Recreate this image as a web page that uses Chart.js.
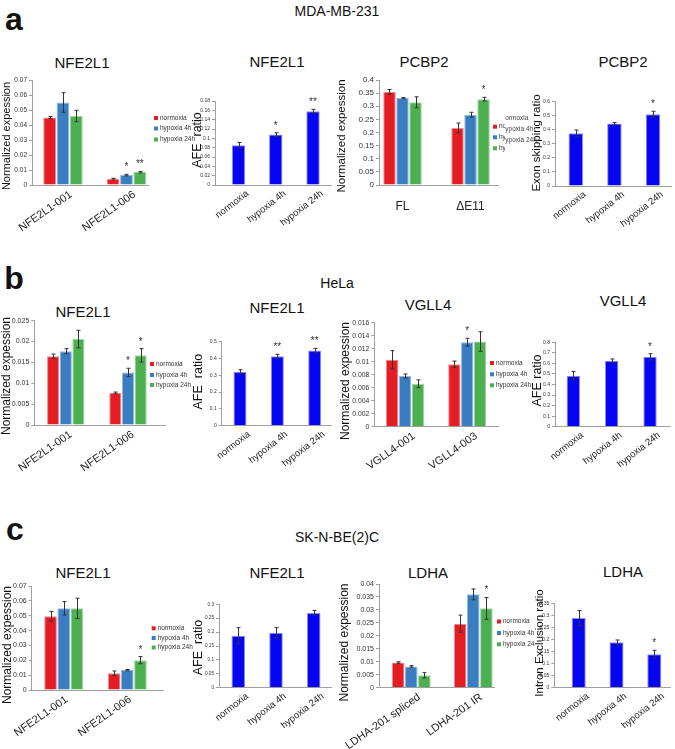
<!DOCTYPE html>
<html><head><meta charset="utf-8">
<script src="https://cdn.jsdelivr.net/npm/chart.js@4/dist/chart.umd.min.js"></script>
<style>
html,body{margin:0;padding:0;background:#fff;}
body{width:675px;height:749px;position:relative;overflow:hidden;font-family:"Liberation Sans",Arial,sans-serif;}
canvas{position:absolute;}
.t{position:absolute;white-space:nowrap;color:#111;transform:translate(-50%,-50%);line-height:1.2;}
</style></head><body>
<script>
// ---------- data ----------
const GROUPS = ['normoxia', 'hypoxia 4h', 'hypoxia 24h'];
const CONDS = ['normoxia', 'hypoxia 4h', 'hypoxia 24h'];

// a: MDA-MB-231
const a1Cats = ['NFE2L1-001', 'NFE2L1-006'];
const a1Norm = [0.0450, 0.0042];
const a1H4 = [0.0550, 0.0066];
const a1H24 = [0.0460, 0.0086];
const a1NormErr = [0.0007, 0.0003];
const a1H4Err = [0.0065, 0.0005];
const a1H24Err = [0.0038, 0.0005];
const a1Stars = [['', ''], ['', '*'], ['', '**']];

const a2Vals = [0.085, 0.108, 0.158];
const a2Err = [0.006, 0.004, 0.004];
const a2Stars = ['', '*', '**'];

const a3Cats = ['FL', 'ΔE11'];
const a3Norm = [0.355, 0.217];
const a3H4 = [0.331, 0.268];
const a3H24 = [0.315, 0.327];
const a3NormErr = [0.009, 0.019];
const a3H4Err = [0.002, 0.009];
const a3H24Err = [0.021, 0.007];
const a3Stars = [['', ''], ['', ''], ['', '*']];

const a4Vals = [0.376, 0.444, 0.510];
const a4Err = [0.022, 0.008, 0.022];
const a4Stars = ['', '', '*'];

// b: HeLa
const b1Cats = ['NFE2L1-001', 'NFE2L1-006'];
const b1Norm = [0.0165, 0.0077];
const b1H4 = [0.0177, 0.0126];
const b1H24 = [0.0206, 0.0167];
const b1NormErr = [0.0005, 0.0002];
const b1H4Err = [0.0006, 0.0010];
const b1H24Err = [0.0021, 0.0016];
const b1Stars = [['', ''], ['', '*'], ['', '*']];

const b2Vals = [0.321, 0.413, 0.447];
const b2Err = [0.012, 0.012, 0.013];
const b2Stars = ['', '**', '**'];

const b3Cats = ['VGLL4-001', 'VGLL4-003'];
const b3Norm = [0.0103, 0.0096];
const b3H4 = [0.0078, 0.0130];
const b3H24 = [0.0066, 0.0131];
const b3NormErr = [0.0014, 0.0005];
const b3H4Err = [0.0003, 0.0006];
const b3H24Err = [0.0006, 0.0015];
const b3Stars = [['', ''], ['', '*'], ['', '']];

const b4Vals = [0.484, 0.625, 0.662];
const b4Err = [0.040, 0.017, 0.030];
const b4Stars = ['', '', '*'];

// c: SK-N-BE(2)C
const c1Cats = ['NFE2L1-001', 'NFE2L1-006'];
const c1Norm = [0.0496, 0.0113];
const c1H4 = [0.0550, 0.0134];
const c1H24 = [0.0550, 0.0201];
const c1NormErr = [0.0033, 0.0015];
const c1H4Err = [0.0045, 0.0004];
const c1H24Err = [0.0068, 0.0024];
const c1Stars = [['', ''], ['', ''], ['', '*']];

const c2Vals = [0.187, 0.198, 0.269];
const c2Err = [0.029, 0.018, 0.009];
const c2Stars = ['', '', ''];

const c3Cats = ['LDHA-201 spliced', 'LDHA-201 IR'];
const c3Norm = [0.0097, 0.0247];
const c3H4 = [0.0082, 0.0360];
const c3H24 = [0.0048, 0.0306];
const c3NormErr = [0.0003, 0.0033];
const c3H4Err = [0.0003, 0.0021];
const c3H24Err = [0.0010, 0.0042];
const c3Stars = [['', ''], ['', ''], ['', '*']];

const c4Vals = [0.289, 0.188, 0.139];
const c4Err = [0.031, 0.010, 0.016];
const c4Stars = ['', '', '*'];

// ---------- styles / layout ----------
const FONT = '"Liberation Sans", Arial, sans-serif';
const GROUP_COLORS = ['#e41d24', '#3b7dc1', '#4caf50'];
const GROUP_EDGES = ['#f08a8d', '#94b9df', '#9fd5a1'];
const BLUE = '#0505f2';
const BLUE_EDGE = '#8c8cf7';

const LAYOUT = {
  a1: {x0:0, y0:70, w:200, h:170, L:32, R:148, T:80, B:185, xmin:-0.488, xmax:1.339, ymax:0.07, step:0.01, tick:6.5, cat:0.63, bar:0.96, rot:35, xfont:11, xpad:3, xoff:8, ytitle:'Normalized expession', ytx:7, yty:136, yts:11, legend:{x:154, ys:[118, 128.5, 139.5]}},
  a2: {x0:165, y0:70, w:170, h:170, L:215, R:331, T:101, B:185, xmin:-0.631, xmax:2.483, ymax:0.18, step:0.02, tick:5, cat:0.6, bar:0.6, rot:38, xfont:9.5, xpad:3, xoff:9, ytitle:'AFE  ratio', ytx:198, yty:140, yts:12.5},
  a3: {x0:335, y0:70, w:170, h:170, L:379, R:498, T:80, B:185, xmin:-0.3456, xmax:1.404, ymax:0.4, step:0.05, tick:8, cat:0.574, bar:0.96, rot:0, xfont:12, xpad:14, xoff:0, ytitle:'Normalized expession', ytx:342, yty:136, yts:11.5, legend:{x:493, ys:[126.7, 137.3, 148.3]}},
  a4: {x0:505, y0:70, w:170, h:170, L:555, R:671.7, T:101.7, B:186, xmin:-0.539, xmax:2.484, ymax:0.6, step:0.1, tick:5, cat:0.6, bar:0.627, rot:38, xfont:9.5, xpad:3, xoff:9, ytitle:'Exon skipping ratio', ytx:537, yty:143, yts:11.5, legend:{x:495.7, ys:[118, 129.5, 140.5]}},
  b1: {x0:0, y0:310, w:200, h:185, L:34.3, R:165, T:320.7, B:425, xmin:-0.506, xmax:1.595, ymax:0.025, step:0.005, tick:7, cat:0.61, bar:0.96, rot:35, xfont:11, xpad:3, xoff:5, ytitle:'Normalized expession', ytx:7, yty:376, yts:12, legend:{x:150, ys:[364, 375, 385]}},
  b2: {x0:165, y0:310, w:170, h:185, L:221.7, R:331.7, T:341.7, B:425.7, xmin:-0.49, xmax:2.455, ymax:0.5, step:0.05, tick:5, cat:0.6, bar:0.58, rot:38, xfont:9.5, xpad:3, xoff:9, ytitle:'AFE  ratio', ytx:198.3, yty:381.7, yts:12.5},
  b3: {x0:335, y0:310, w:200, h:185, L:374.3, R:498.3, T:322.7, B:426.7, xmin:-0.494, xmax:1.5, ymax:0.016, step:0.002, tick:6.8, cat:0.62, bar:0.96, rot:35, xfont:11, xpad:3, xoff:9, ytitle:'Normalized expession', ytx:345.7, yty:381, yts:12, legend:{x:490, ys:[363, 374.3, 385.3]}},
  b4: {x0:505, y0:310, w:170, h:185, L:555, R:670, T:342.3, B:426.7, xmin:-0.477, xmax:2.52, ymax:0.8, step:0.1, tick:5, cat:0.6, bar:0.58, rot:38, xfont:9.5, xpad:3, xoff:9, ytitle:'AFE ratio', ytx:537.3, yty:380.5, yts:12.5},
  c1: {x0:0, y0:575, w:200, h:174, L:31.7, R:163, T:586, B:690, xmin:-0.503, xmax:1.561, ymax:0.07, step:0.01, tick:7, cat:0.62, bar:0.96, rot:35, xfont:11, xpad:3, xoff:3, ytitle:'Normalized expession', ytx:7.3, yty:645, yts:12, legend:{x:151.7, ys:[628.3, 638, 647.5]}},
  c2: {x0:165, y0:575, w:170, h:174, L:219, R:331.7, T:604.3, B:687.7, xmin:-0.512, xmax:2.477, ymax:0.3, step:0.05, tick:4.7, cat:0.6, bar:0.6, rot:38, xfont:9.5, xpad:3, xoff:9, ytitle:'AFE  ratio', ytx:198.3, yty:647.5, yts:12.5},
  c3: {x0:335, y0:575, w:200, h:174, L:379, R:494.3, T:584, B:687.7, xmin:-0.521, xmax:1.339, ymax:0.04, step:0.005, tick:7, cat:0.634, bar:0.96, rot:35, xfont:11, xpad:3, xoff:8, ytitle:'Normalized expession', ytx:345, yty:642.5, yts:12, legend:{x:497, ys:[621.5, 633, 644.3]}},
  c4: {x0:505, y0:575, w:170, h:174, L:554.3, R:670.7, T:603.3, B:687.7, xmin:-0.646, xmax:2.434, ymax:0.35, step:0.05, tick:5, cat:0.6, bar:0.62, rot:38, xfont:9.5, xpad:3, xoff:9, ytitle:'Intron Exclusion ratio', ytx:540, yty:643, yts:11.5}
};

const PANELS = [
  {id:'a1', cats:a1Cats, series:[a1Norm, a1H4, a1H24], errs:[a1NormErr, a1H4Err, a1H24Err], stars:a1Stars},
  {id:'a2', cats:CONDS, series:[a2Vals], errs:[a2Err], stars:[a2Stars]},
  {id:'a3', cats:a3Cats, series:[a3Norm, a3H4, a3H24], errs:[a3NormErr, a3H4Err, a3H24Err], stars:a3Stars},
  {id:'a4', cats:CONDS, series:[a4Vals], errs:[a4Err], stars:[a4Stars]},
  {id:'b1', cats:b1Cats, series:[b1Norm, b1H4, b1H24], errs:[b1NormErr, b1H4Err, b1H24Err], stars:b1Stars},
  {id:'b2', cats:CONDS, series:[b2Vals], errs:[b2Err], stars:[b2Stars]},
  {id:'b3', cats:b3Cats, series:[b3Norm, b3H4, b3H24], errs:[b3NormErr, b3H4Err, b3H24Err], stars:b3Stars},
  {id:'b4', cats:CONDS, series:[b4Vals], errs:[b4Err], stars:[b4Stars]},
  {id:'c1', cats:c1Cats, series:[c1Norm, c1H4, c1H24], errs:[c1NormErr, c1H4Err, c1H24Err], stars:c1Stars},
  {id:'c2', cats:CONDS, series:[c2Vals], errs:[c2Err], stars:[c2Stars]},
  {id:'c3', cats:c3Cats, series:[c3Norm, c3H4, c3H24], errs:[c3NormErr, c3H4Err, c3H24Err], stars:c3Stars},
  {id:'c4', cats:CONDS, series:[c4Vals], errs:[c4Err], stars:[c4Stars]}
];

const TITLES = [
  ['NFE2L1', 82, 63], ['NFE2L1', 277, 62], ['PCBP2', 424, 62], ['PCBP2', 623, 62],
  ['NFE2L1', 83, 311.7], ['NFE2L1', 277, 307.5], ['VGLL4', 428, 305], ['VGLL4', 623, 301],
  ['NFE2L1', 83, 573.3], ['NFE2L1', 277, 572.7], ['LDHA', 428, 572.7], ['LDHA', 623, 571.7]
];
const HEADERS = [['MDA-MB-231', 337, 11], ['HeLa', 337, 283], ['SK-N-BE(2)C', 337, 537]];
const LETTERS = [['a', 14, 19], ['b', 14, 278], ['c', 15, 529]];

function addText(txt, x, y, size, weight) {
  const d = document.createElement('div');
  d.className = 't';
  d.textContent = txt;
  d.style.left = x + 'px'; d.style.top = y + 'px';
  d.style.fontSize = size + 'px';
  if (weight) d.style.fontWeight = weight;
  document.body.appendChild(d);
}
HEADERS.forEach(h => addText(h[0], h[1], h[2], 14));
LETTERS.forEach(l => addText(l[0], l[1], l[2], 32, 'bold'));
TITLES.forEach(t => addText(t[0], t[1], t[2], 15));

function fmt(v) { return String(parseFloat(Number(v).toFixed(6))); }

function decoFor(L, isGroup) {
  return {
    id: 'deco',
    afterDatasetsDraw(chart) {
      const ctx = chart.ctx; const ys = chart.scales.y;
      ctx.save();
      chart.data.datasets.forEach((ds, k) => {
        const meta = chart.getDatasetMeta(k);
        meta.data.forEach((el, i) => {
          const v = ds.data[i].y, e = ds.errors[i];
          const yt = ys.getPixelForValue(v + e), yb = ys.getPixelForValue(v - e);
          const x = Math.round(el.x) + 0.5;
          ctx.strokeStyle = '#333'; ctx.lineWidth = 1;
          ctx.beginPath();
          ctx.moveTo(x, yt); ctx.lineTo(x, yb);
          ctx.moveTo(x - 2, yt); ctx.lineTo(x + 2, yt);
          ctx.moveTo(x - 2, yb); ctx.lineTo(x + 2, yb);
          ctx.stroke();
          const s = ds.stars[i];
          if (s) {
            ctx.fillStyle = '#333'; ctx.font = '10px ' + FONT;
            ctx.textAlign = 'center'; ctx.textBaseline = 'alphabetic';
            ctx.fillText(s, el.x, yt - 4);
          }
        });
      });
      ctx.restore();
    },
    afterDraw(chart) {
      const ctx = chart.ctx;
      ctx.save();
      ctx.translate(L.ytx - L.x0, L.yty - L.y0);
      ctx.rotate(-Math.PI / 2);
      ctx.fillStyle = '#111'; ctx.font = L.yts + 'px ' + FONT;
      ctx.textAlign = 'center'; ctx.textBaseline = 'middle';
      ctx.fillText(L.ytitle, 0, 0);
      ctx.restore();
      if (L.legend) {
        ctx.save();
        ctx.font = '6.5px ' + FONT; ctx.textAlign = 'left'; ctx.textBaseline = 'middle';
        GROUPS.forEach((g, k) => {
          const y = L.legend.ys[k] - L.y0, x = L.legend.x - L.x0;
          ctx.fillStyle = GROUP_COLORS[k];
          ctx.fillRect(x, y - 2, 4, 4);
          ctx.fillStyle = isGroup ? '#333' : '#444';
          ctx.fillText(g, x + 6, y);
        });
        ctx.restore();
      }
    }
  };
}

function makeChart(p) {
  const L = LAYOUT[p.id];
  const cv = document.createElement('canvas');
  cv.width = L.w; cv.height = L.h;
  cv.style.left = L.x0 + 'px'; cv.style.top = L.y0 + 'px';
  cv.style.width = L.w + 'px'; cv.style.height = L.h + 'px';
  document.body.appendChild(cv);
  const isGroup = p.series.length > 1;
  const datasets = p.series.map((vals, k) => ({
    label: isGroup ? GROUPS[k] : p.id,
    data: vals.map((v, i) => ({x: i, y: v})),
    errors: p.errs[k],
    stars: p.stars[k],
    backgroundColor: isGroup ? GROUP_COLORS[k] : BLUE,
    borderColor: isGroup ? GROUP_EDGES[k] : BLUE_EDGE,
    borderWidth: 1,
    categoryPercentage: L.cat,
    barPercentage: L.bar
  }));
  const cats = p.cats;
  new Chart(cv, {
    type: 'bar',
    data: {datasets},
    options: {
      responsive: false, animation: false, devicePixelRatio: 1,
      layout: {autoPadding: false, padding: {left: 0, top: L.T - L.y0, right: L.x0 + L.w - L.R, bottom: 0}},
      plugins: {legend: {display: false}, tooltip: {enabled: false}, title: {display: false}},
      scales: {
        x: {
          type: 'linear', min: L.xmin, max: L.xmax, offset: false,
          grid: {display: false, drawTicks: false},
          border: {display: true, color: '#a0a0a0', width: 1},
          afterBuildTicks: s => { s.ticks = cats.map((c, i) => ({value: i})); },
          afterFit: s => { s.height = L.y0 + L.h - L.B; s.paddingLeft = 0; s.paddingRight = 0; },
          ticks: {
            autoSkip: false, minRotation: L.rot, maxRotation: L.rot, padding: L.xpad, labelOffset: L.xoff,
            color: '#222', font: {family: FONT, size: L.xfont},
            callback: v => cats[v]
          }
        },
        y: {
          type: 'linear', min: 0, max: L.ymax,
          grid: {display: true, drawOnChartArea: false, drawTicks: true, tickLength: 3, color: '#a0a0a0'},
          border: {display: true, color: '#a0a0a0', width: 1},
          afterFit: s => { s.width = L.L - L.x0; s.paddingTop = 0; s.paddingBottom = 0; },
          ticks: {stepSize: L.step, padding: 2, color: '#333', font: {family: FONT, size: L.tick}, callback: v => fmt(v)}
        }
      }
    },
    plugins: [decoFor(L, isGroup)]
  });
}
PANELS.forEach(makeChart);
</script>
</body></html>
